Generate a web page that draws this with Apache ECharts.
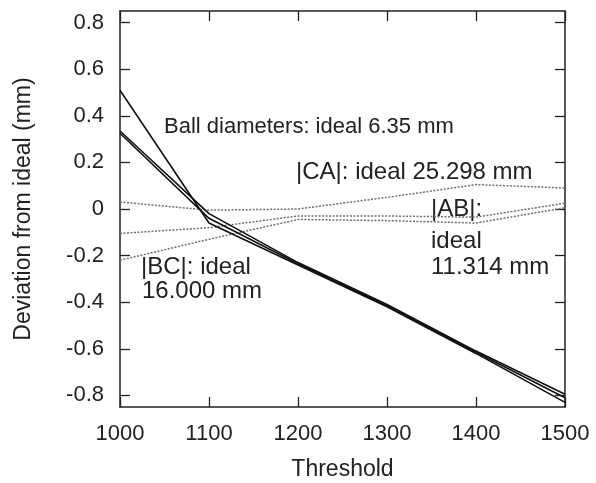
<!DOCTYPE html>
<html>
<head>
<meta charset="utf-8">
<script src="https://cdn.jsdelivr.net/npm/echarts@6/dist/echarts.min.js"></script>
<style>
    html, body { margin: 0; padding: 0; background: #fff; }
    #chart { width: 596px; height: 483px; }
</style>
</head>
<body>
<div id="chart"></div>
<script>
// thresholds on the x axis
let thresholds = [1000, 1100, 1200, 1300, 1400, 1500];

// ball diameter deviations (solid)
let ballA = [0.51, -0.06, -0.24, -0.42, -0.62, -0.83];
let ballB = [0.335, -0.02, -0.23, -0.41, -0.61, -0.795];
let ballC = [0.325, -0.04, -0.235, -0.415, -0.615, -0.81];

// distance deviations (dotted)
let distCA = [0.03, -0.005, 0.0, 0.05, 0.105, 0.09];
let distAB = [-0.105, -0.08, -0.03, -0.03, -0.035, 0.025];
let distBC = [-0.22, -0.13, -0.045, -0.05, -0.06, 0.005];

let yTicks = [-0.8, -0.6, -0.4, -0.2, 0, 0.2, 0.4, 0.6, 0.8];
let yTickLabels = ['-0.8', '-0.6', '-0.4', '-0.2', '0', '0.2', '0.4', '0.6', '0.8'];

let font = 'Liberation Sans, Arial, sans-serif';

function pairs(values)
{
    return thresholds.map(function (t, i) { return [t, values[i]]; });
}

function solid(values)
{
    return {
        type: 'line',
        data: pairs(values),
        symbol: 'none',
        lineStyle: {color: '#111', width: 1.6},
        z: 3
    };
}

function dotted(values)
{
    return {
        type: 'line',
        data: pairs(values),
        symbol: 'none',
        lineStyle: {color: '#707070', width: 1.5, type: [2, 1.5]},
        z: 2
    };
}

function note(left, top, text, size)
{
    return {
        type: 'text', left: left, top: top,
        style: {text: text, font: size + 'px ' + font, fill: '#222'}
    };
}

let myChart = echarts.init(document.getElementById('chart'));

let axisLine = {show: true, onZero: false, lineStyle: {color: '#222', width: 1.5}};
let tick = {inside: true, length: 10, lineStyle: {color: '#222', width: 1.3}};

let option = {
    animation: false,
    grid: {left: 120, right: 31, top: 11, bottom: 76, outerBoundsMode: 'none', containLabel: false},
    xAxis: [{
        type: 'value',
        min: 1000,
        max: 1500,
        interval: 100,
        name: 'Threshold',
        nameLocation: 'middle',
        nameGap: 51,
        nameTextStyle: {fontFamily: font, fontSize: 23, color: '#222'},
        axisLine: axisLine,
        axisTick: tick,
        axisLabel: {
            fontFamily: font, fontSize: 22, color: '#222', margin: 16,
            formatter: function (val) { return String(val); }
        },
        splitLine: {show: false}
    }, {
        type: 'value',
        position: 'top',
        min: 1000,
        max: 1500,
        interval: 100,
        axisLine: axisLine,
        axisTick: tick,
        axisLabel: {show: false},
        splitLine: {show: false}
    }],
    yAxis: [{
        type: 'value',
        min: -0.85,
        max: 0.85,
        name: 'Deviation from ideal (mm)',
        nameLocation: 'middle',
        nameGap: 85,
        nameRotate: 90,
        nameTextStyle: {fontFamily: font, fontSize: 23, color: '#222'},
        axisLine: axisLine,
        axisTick: Object.assign({customValues: yTicks}, tick),
        axisLabel: {
            customValues: yTicks,
            fontFamily: font,
            fontSize: 22,
            color: '#222',
            margin: 16,
            formatter: function (val)
            {
                let i = yTicks.indexOf(Math.round(val * 10) / 10);
                return i >= 0 ? yTickLabels[i] : '';
            }
        },
        splitLine: {show: false}
    }, {
        type: 'value',
        position: 'right',
        min: -0.85,
        max: 0.85,
        axisLine: axisLine,
        axisTick: Object.assign({customValues: yTicks}, tick),
        axisLabel: {show: false},
        splitLine: {show: false}
    }],
    graphic: [
        note(164, 116, 'Ball diameters: ideal 6.35 mm', 22),
        note(296, 160, '|CA|: ideal 25.298 mm', 24),
        note(431, 197, '|AB|:', 24),
        note(431, 229, 'ideal', 24),
        note(431, 255, '11.314 mm', 24),
        note(141, 255, '|BC|: ideal', 24),
        note(142, 279, '16.000 mm', 24)
    ],
    series: [
        dotted(distCA),
        dotted(distAB),
        dotted(distBC),
        solid(ballA),
        solid(ballB),
        solid(ballC)
    ]
};

myChart.setOption(option);
</script>
</body>
</html>
